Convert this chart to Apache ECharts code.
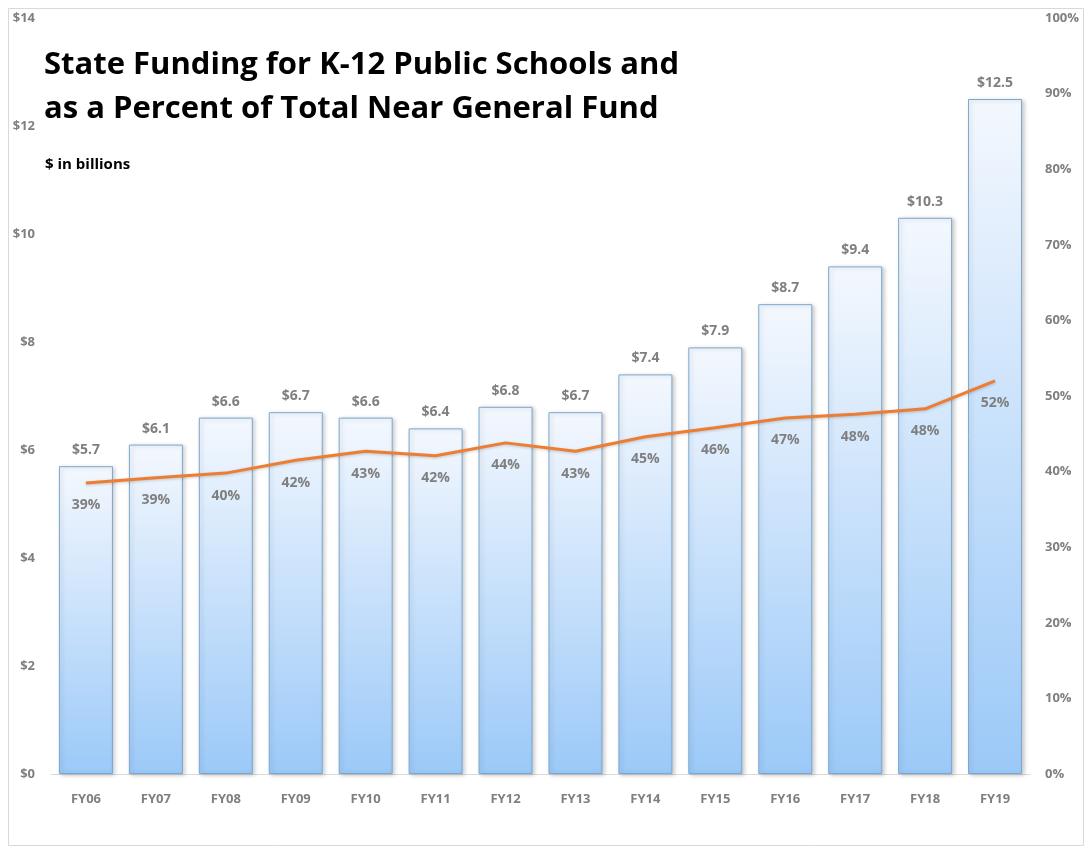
<!DOCTYPE html>
<html>
<head>
<meta charset="utf-8">
<script src="https://cdn.jsdelivr.net/npm/echarts@6/dist/echarts.min.js"></script>
<style>
  html, body { margin: 0; padding: 0; background: #fff; }
  #chart { width: 1091px; height: 851px; }
</style>
</head>
<body>
<div id="chart"></div>
<script>
const years = ["FY06", "FY07", "FY08", "FY09", "FY10", "FY11", "FY12", "FY13", "FY14", "FY15", "FY16", "FY17", "FY18", "FY19"];
const funding = [5.7, 6.1, 6.6, 6.7, 6.6, 6.4, 6.8, 6.7, 7.4, 7.9, 8.7, 9.4, 10.3, 12.5];
const percentOfFund = [38.5, 39.2, 39.8, 41.5, 42.7, 42.1, 43.8, 42.7, 44.6, 45.8, 47.1, 47.6, 48.3, 52.0];
const percentLabels = ["39%", "39%", "40%", "42%", "43%", "42%", "44%", "43%", "45%", "46%", "47%", "48%", "48%", "52%"];

const gray = "#7f7f7f";
const font = "'Open Sans', sans-serif";

const chart = echarts.init(document.getElementById("chart"), null, { renderer: "canvas" });

chart.setOption({
  animation: false,
  backgroundColor: "#ffffff",
  textStyle: { fontFamily: font },
  graphic: [
    {
      type: "rect",
      shape: { x: 8.5, y: 8.5, width: 1075, height: 837 },
      style: { fill: "none", stroke: "#d9d9d9", lineWidth: 1 },
      z: -10
    },
    {
      type: "text",
      left: 44,
      top: 43,
      style: {
        text: "State Funding for K-12 Public Schools and\nas a Percent of Total Near General Fund",
        fontFamily: font,
        fontSize: 31,
        fontWeight: "bold",
        fill: "#000",
        lineHeight: 44
      },
      z: 10
    },
    {
      type: "text",
      left: 45,
      top: 157,
      style: {
        text: "$ in billions",
        fontFamily: font,
        fontSize: 15,
        fontWeight: "bold",
        fill: "#000"
      },
      z: 10
    }
  ],
  grid: { left: 51, right: 61, top: 18, bottom: 77 },
  xAxis: {
    type: "category",
    data: years,
    axisLine: { show: true, lineStyle: { color: "#d9d9d9" } },
    axisTick: { show: false },
    axisLabel: { color: gray, fontWeight: "bold", fontSize: 13, margin: 19 }
  },
  yAxis: [
    {
      type: "value",
      min: 0,
      max: 14,
      interval: 2,
      splitLine: { show: false },
      axisLine: { show: false },
      axisTick: { show: false },
      axisLabel: { color: gray, fontWeight: "bold", fontSize: 13, margin: 16, formatter: v => "$" + v }
    },
    {
      type: "value",
      min: 0,
      max: 100,
      interval: 10,
      splitLine: { show: false },
      axisLine: { show: false },
      axisTick: { show: false },
      axisLabel: { color: gray, fontWeight: "bold", fontSize: 13, margin: 15, formatter: v => v + "%" }
    }
  ],
  series: [
    {
      type: "bar",
      data: funding,
      barWidth: 54,
      itemStyle: {
        color: new echarts.graphic.LinearGradient(0, 0, 0, 1, [
          { offset: 0, color: "#f4f8fe" },
          { offset: 1, color: "#9bc9f8" }
        ]),
        borderColor: "#7aa8d0",
        borderWidth: 1,
        shadowBlur: 4,
        shadowOffsetX: 2,
        shadowOffsetY: 1,
        shadowColor: "rgba(0,0,0,0.2)"
      },
      label: {
        show: true,
        position: "top",
        distance: 9,
        color: gray,
        fontWeight: "bold",
        fontSize: 14,
        formatter: p => "$" + p.value
      }
    },
    {
      type: "line",
      yAxisIndex: 1,
      data: percentOfFund,
      symbol: "circle",
      symbolSize: 1,
      showSymbol: true,
      itemStyle: { color: "rgba(0,0,0,0)" },
      lineStyle: { color: "#ed7d31", width: 3, shadowBlur: 3, shadowColor: "rgba(0,0,0,0.2)", shadowOffsetY: 1 },
      label: {
        show: true,
        position: "bottom",
        distance: 15,
        color: gray,
        fontWeight: "bold",
        fontSize: 14,
        formatter: p => percentLabels[p.dataIndex]
      },
      labelLayout: { hideOverlap: false },
      z: 5
    }
  ]
});
</script>
</body>
</html>
